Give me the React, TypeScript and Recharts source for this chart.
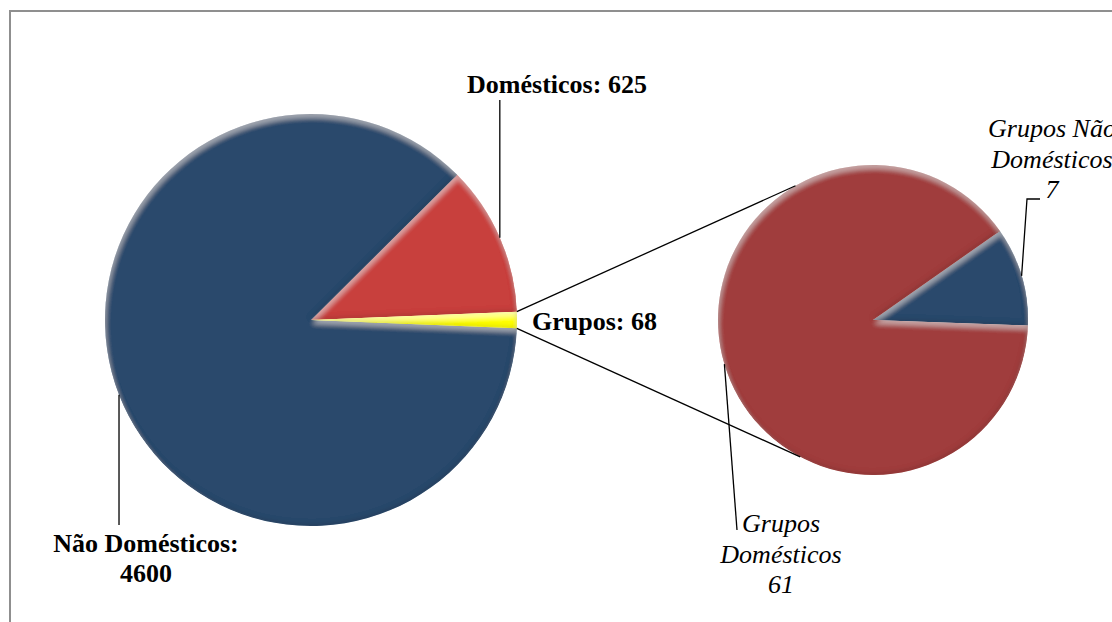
import { PieChart, Pie, Cell } from "recharts";

// Consumo por tipo de cliente, com o detalhe dos grupos
const mainCategories = ["Domésticos", "Não Domésticos", "Grupos"];
const mainValues = [625, 4600, 68];
const groupCategories = ["Grupos Não Domésticos", "Grupos Domésticos"];
const groupValues = [7, 61];

const mainColors = ["#c8403c", "#2c4a6c", "#ffff00"];
const groupColors = ["#2c4a6c", "#a03e3c"];

const mainData = mainCategories.map((name, i) => ({ name, value: mainValues[i] }));
const groupData = groupCategories.map((name, i) => ({ name, value: groupValues[i] }));

const W = 1112;
const H = 622;
const FONT = "'Liberation Serif', 'Times New Roman', serif";

const MAIN_CX = 311;
const MAIN_CY = 320;
const MAIN_R = 206;
const GROUP_CX = 873;
const GROUP_CY = 320;
const GROUP_R = 155;

// rotate the big pie so the "Grupos" wedge sits centred on 3 o'clock
const mainTotal = mainValues.reduce((a, b) => a + b, 0);
const groupsSweep = (mainValues[2] / mainTotal) * 360;
const MAIN_START = groupsSweep / 2;
const GROUP_START = -2;

const RADIAN = Math.PI / 180;
const polar = (cx: number, cy: number, r: number, deg: number) => ({
  x: cx + r * Math.cos(-deg * RADIAN),
  y: cy + r * Math.sin(-deg * RADIAN),
});

const line = { stroke: "#000", strokeWidth: 1.3, fill: "none" };
const bold = { fontFamily: FONT, fontSize: 26, fontWeight: 700, fill: "#000", stroke: "none" };
const italic = { fontFamily: FONT, fontSize: 26, fontStyle: "italic", fill: "#000", stroke: "none" };

function renderMainLabel(props: any) {
  const { cx, cy, outerRadius, midAngle, startAngle, endAngle, index } = props;
  const name = mainCategories[index];
  const value = mainValues[index];
  const p = polar(cx, cy, outerRadius, midAngle);

  if (index === 0) {
    return (
      <g>
        <polyline points={`${p.x},${p.y} ${p.x},${cy - 220}`} {...line} />
        <text x={cx + 246} y={cy - 227} textAnchor="middle" {...bold}>
          {`${name}: ${value}`}
        </text>
      </g>
    );
  }
  if (index === 1) {
    return (
      <g>
        <polyline points={`${p.x},${p.y} ${p.x},${cy + 205}`} {...line} />
        <text textAnchor="middle" {...bold}>
          <tspan x={cx - 165} y={cy + 232}>{`${name}:`}</tspan>
          <tspan x={cx - 165} y={cy + 262}>{value}</tspan>
        </text>
      </g>
    );
  }
  // Grupos: label plus the two lines that open into the detail pie
  const top = polar(cx, cy, outerRadius, endAngle);
  const bottom = polar(cx, cy, outerRadius, startAngle);
  const t2 = polar(GROUP_CX, GROUP_CY, GROUP_R, 120);
  const b2 = polar(GROUP_CX, GROUP_CY, GROUP_R, 242);
  return (
    <g>
      <line x1={top.x} y1={top.y} x2={t2.x} y2={t2.y} {...line} />
      <line x1={bottom.x} y1={bottom.y} x2={b2.x} y2={b2.y} {...line} />
      <text x={cx + 221} y={cy + 10} textAnchor="start" {...bold}>
        {`${name}: ${value}`}
      </text>
    </g>
  );
}

function renderGroupLabel(props: any) {
  const { cx, cy, outerRadius, midAngle, index } = props;
  const value = groupValues[index];
  const p = polar(cx, cy, outerRadius, midAngle);

  if (index === 0) {
    return (
      <g>
        <polyline points={`${p.x},${p.y} ${cx + 154},${cy - 121} ${cx + 167},${cy - 121}`} {...line} />
        <text textAnchor="middle" {...italic}>
          <tspan x={cx + 179} y={cy - 183}>Grupos Não</tspan>
          <tspan x={cx + 179} y={cy - 152}>Domésticos</tspan>
          <tspan x={cx + 179} y={cy - 122}>{value}</tspan>
        </text>
      </g>
    );
  }
  return (
    <g>
      <polyline points={`${p.x},${p.y} ${cx - 136},${cy + 210}`} {...line} />
      <text textAnchor="middle" {...italic}>
        <tspan x={cx - 92} y={cy + 212}>Grupos</tspan>
        <tspan x={cx - 92} y={cy + 243}>Domésticos</tspan>
        <tspan x={cx - 92} y={cy + 273}>{value}</tspan>
      </text>
    </g>
  );
}

export default function App() {
  return (
    <div
      style={{
        position: "fixed",
        left: 0,
        top: 0,
        width: W,
        height: H,
        overflow: "hidden",
        background: "#fff",
      }}
    >
      <svg width={0} height={0} style={{ position: "absolute" }}>
        <defs>
          {/* soft bevel: light band along upper edges, faint dark rim along lower edges */}
          <filter id="bevel" x="-10%" y="-10%" width="120%" height="120%">
            <feGaussianBlur in="SourceAlpha" stdDeviation="2.5" result="blur" />
            <feOffset in="blur" dx="1" dy="4" result="down" />
            <feComposite in="SourceAlpha" in2="down" operator="arithmetic" k2="1" k3="-1" result="topEdge" />
            <feFlood floodColor="#ffffff" floodOpacity="0.35" />
            <feComposite in2="topEdge" operator="in" result="light" />
            <feOffset in="blur" dx="-1" dy="-2" result="up" />
            <feComposite in="SourceAlpha" in2="up" operator="arithmetic" k2="1" k3="-1" result="bottomEdge" />
            <feFlood floodColor="#000000" floodOpacity="0.25" />
            <feComposite in2="bottomEdge" operator="in" result="dark" />
            <feMerge>
              <feMergeNode in="SourceGraphic" />
              <feMergeNode in="light" />
              <feMergeNode in="dark" />
            </feMerge>
          </filter>
        </defs>
      </svg>
      <div
        style={{
          position: "absolute",
          left: 9,
          top: 10,
          width: 1300,
          height: 800,
          border: "2px solid #8f8f8f",
        }}
      />
      <div style={{ position: "absolute", left: 0, top: 0 }}>
        <PieChart width={W} height={H} margin={{ top: 0, right: 0, bottom: 0, left: 0 }}>
          <Pie
            data={mainData}
            dataKey="value"
            nameKey="name"
            cx={MAIN_CX}
            cy={MAIN_CY}
            outerRadius={MAIN_R}
            startAngle={MAIN_START}
            endAngle={MAIN_START + 360}
            stroke="none"
            label={renderMainLabel}
            labelLine={false}
            isAnimationActive={false}
          >
            {mainData.map((_, i) => (
              <Cell key={`main-${i}`} fill={mainColors[i]} filter="url(#bevel)" />
            ))}
          </Pie>
          <Pie
            data={groupData}
            dataKey="value"
            nameKey="name"
            cx={GROUP_CX}
            cy={GROUP_CY}
            outerRadius={GROUP_R}
            startAngle={GROUP_START}
            endAngle={GROUP_START + 360}
            stroke="none"
            label={renderGroupLabel}
            labelLine={false}
            isAnimationActive={false}
          >
            {groupData.map((_, i) => (
              <Cell key={`group-${i}`} fill={groupColors[i]} filter="url(#bevel)" />
            ))}
          </Pie>
        </PieChart>
      </div>
    </div>
  );
}
